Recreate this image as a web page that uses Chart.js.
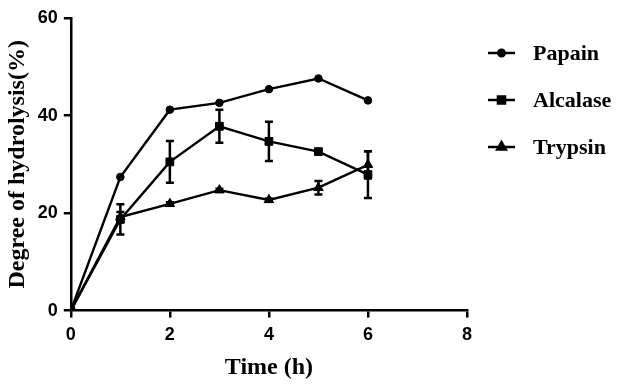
<!DOCTYPE html>
<html>
<head>
<meta charset="utf-8">
<script src="https://cdn.jsdelivr.net/npm/chart.js@4.4.1/dist/chart.umd.min.js"></script>
<style>
  html, body { margin: 0; padding: 0; background: #fff; }
  #wrap { width: 624px; height: 385px; }
</style>
</head>
<body>
<div id="wrap"><canvas id="myChart" width="624" height="385"></canvas></div>
<script>
const times = [0, 1, 2, 3, 4, 5, 6];
const papain = [0, 27.4, 41.2, 42.6, 45.4, 47.6, 43.1];
const alcalase = [0, 18.7, 30.5, 37.8, 34.7, 32.6, 27.9];
const alcalaseErr = [0, 3.1, 4.3, 3.4, 4.0, 0.4, 4.8];
const trypsin = [0, 19.2, 21.9, 24.7, 22.7, 25.2, 29.9];
const trypsinErr = [0, 1.0, 0.3, 0.3, 0.3, 1.4, 2.8];
const xTicks = [0, 2, 4, 6, 8];
const yTicks = [0, 20, 40, 60];

const ctx = document.getElementById('myChart');

function toPoints(ys) {
  return times.map((t, i) => ({ x: t, y: ys[i] }));
}

// error bars drawn through the chart scales
const errorBars = {
  id: 'errorBars',
  afterDatasetsDraw(chart) {
    const c = chart.ctx;
    const xs = chart.scales.x, ys = chart.scales.y;
    chart.data.datasets.forEach(ds => {
      if (!ds.errors) return;
      ds.data.forEach((p, i) => {
        const e = ds.errors[i];
        if (!e) return;
        const px = xs.getPixelForValue(p.x);
        const top = ys.getPixelForValue(p.y + e);
        const bot = ys.getPixelForValue(p.y - e);
        c.save();
        c.strokeStyle = '#000';
        c.lineWidth = 2.5;
        c.beginPath();
        c.moveTo(px, top); c.lineTo(px, bot);
        c.moveTo(px - 4, top); c.lineTo(px + 4, top);
        c.moveTo(px - 4, bot); c.lineTo(px + 4, bot);
        c.stroke();
        c.restore();
      });
    });
  }
};

// legend on the right with line + marker
const sideLegend = {
  id: 'sideLegend',
  afterDraw(chart) {
    const c = chart.ctx;
    const x0 = 488, x1 = 515, tx = 533;
    const rows = [53, 100, 147];
    chart.data.datasets.forEach((ds, i) => {
      const y = rows[i];
      c.save();
      c.strokeStyle = '#000';
      c.fillStyle = '#000';
      c.lineWidth = 2.5;
      c.beginPath(); c.moveTo(x0, y); c.lineTo(x1, y); c.stroke();
      Chart.helpers.drawPoint(c, {
        pointStyle: ds.pointStyle, radius: ds.pointRadius - 0.5, rotation: 0, borderWidth: 1
      }, (x0 + x1) / 2, y);
      c.font = 'bold 22px "Liberation Serif", "Times New Roman", serif';
      c.textBaseline = 'middle';
      c.fillText(ds.label, tx, y + 1);
      c.restore();
    });
  }
};

const lineStyle = {
  borderColor: '#000',
  backgroundColor: '#000',
  borderWidth: 2.4,
  pointBorderColor: '#000',
  pointBackgroundColor: '#000',
  pointBorderWidth: 1,
  fill: false,
  tension: 0
};

const config = {
  type: 'line',
  data: {
    datasets: [
      { ...lineStyle, label: 'Papain', data: toPoints(papain), pointStyle: 'circle', pointRadius: 3.8 },
      { ...lineStyle, label: 'Alcalase', data: toPoints(alcalase), errors: alcalaseErr, pointStyle: 'rect', pointRadius: 5.5 },
      { ...lineStyle, label: 'Trypsin', data: toPoints(trypsin), errors: trypsinErr, pointStyle: 'triangle', pointRadius: 5.5 }
    ]
  },
  options: {
    responsive: false,
    animation: false,
    layout: { padding: { left: 3, right: 157, top: 18, bottom: -1 } },
    plugins: {
      legend: { display: false },
      tooltip: { enabled: false }
    },
    scales: {
      x: {
        type: 'linear',
        min: 0, max: 8,
        afterBuildTicks: axis => { axis.ticks = xTicks.map(v => ({ value: v })); },
        border: { color: '#000', width: 2.5 },
        grid: { drawOnChartArea: false, drawTicks: true, tickLength: 7, color: '#000', lineWidth: 2.5 },
        ticks: { color: '#000', padding: 7, font: { family: '"Liberation Sans", Arial, sans-serif', size: 18, weight: 'bold' } },
        title: {
          display: true, text: 'Time (h)', color: '#000', padding: { top: 0 },
          font: { family: '"Liberation Serif", "Times New Roman", serif', size: 24, weight: 'bold' }
        }
      },
      y: {
        min: 0, max: 60,
        afterBuildTicks: axis => { axis.ticks = yTicks.map(v => ({ value: v })); },
        border: { color: '#000', width: 2.5 },
        grid: { drawOnChartArea: false, drawTicks: true, tickLength: 7, color: '#000', lineWidth: 2.5 },
        ticks: { color: '#000', padding: 6, font: { family: '"Liberation Sans", Arial, sans-serif', size: 18, weight: 'bold' } },
        title: {
          display: true, text: 'Degree of hydrolysis(%)', color: '#000', padding: { top: 0, bottom: 0 },
          font: { family: '"Liberation Serif", "Times New Roman", serif', size: 24, weight: 'bold' }
        }
      }
    }
  },
  plugins: [errorBars, sideLegend]
};

const myChart = new Chart(ctx, config);
</script>
</body>
</html>
